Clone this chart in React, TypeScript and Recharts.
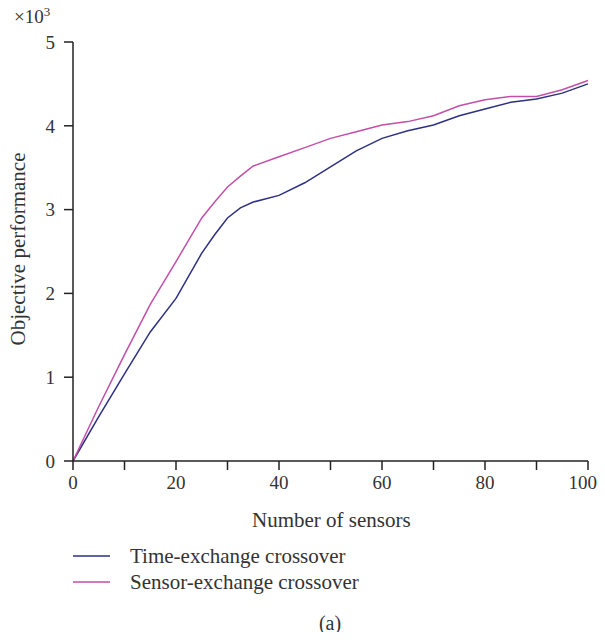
import { LineChart, Line, XAxis, YAxis } from 'recharts'

const sensors = [0, 5, 10, 15, 20, 25, 27.5, 30, 32.5, 35, 40, 45, 50, 55, 60, 65, 70, 75, 80, 85, 90, 95, 100]
const timeExchange = [0, 0.53, 1.04, 1.54, 1.94, 2.48, 2.7, 2.9, 3.02, 3.09, 3.17, 3.32, 3.51, 3.7, 3.85, 3.94, 4.01, 4.12, 4.2, 4.28, 4.32, 4.39, 4.5]
const sensorExchange = [0, 0.65, 1.27, 1.87, 2.38, 2.9, 3.09, 3.27, 3.4, 3.52, 3.63, 3.74, 3.85, 3.93, 4.01, 4.05, 4.12, 4.24, 4.31, 4.35, 4.35, 4.43, 4.54]
const xTicks = [0, 10, 20, 30, 40, 50, 60, 70, 80, 90, 100]
const yTicks = [0, 1, 2, 3, 4, 5]

const data = sensors.map((n, i) => ({ n, time: timeExchange[i], sensor: sensorExchange[i] }))

const FONT = '"Liberation Serif", "DejaVu Serif", serif'
const INK = '#333'
const AXIS = '#222'
const NAVY = '#2e3182'
const PINK = '#c24fa8'

const tickStyle = { fontFamily: FONT, fontSize: 19, fill: INK }

export default function App() {
  return (
    <div style={{ position: 'relative', width: 589, height: 624, fontFamily: FONT, color: INK }}>
      <LineChart
        width={589}
        height={620}
        data={data}
        margin={{ top: 34, right: 9, left: 0, bottom: 107 }}
      >
        <XAxis
          dataKey="n"
          type="number"
          domain={[0, 100]}
          ticks={xTicks}
          tickFormatter={(v: number) => (v % 20 === 0 ? String(v) : '')}
          height={60}
          tickSize={9}
          tickMargin={6}
          stroke={AXIS}
          strokeWidth={1.5}
          tick={tickStyle}
        />
        <YAxis
          type="number"
          domain={[0, 5]}
          ticks={yTicks}
          width={65}
          tickSize={9}
          tickMargin={9}
          stroke={AXIS}
          strokeWidth={1.5}
          tick={tickStyle}
        />
        <Line
          dataKey="time"
          stroke={NAVY}
          strokeWidth={1.5}
          dot={false}
          type="linear"
          isAnimationActive={false}
        />
        <Line
          dataKey="sensor"
          stroke={PINK}
          strokeWidth={1.5}
          dot={false}
          type="linear"
          isAnimationActive={false}
        />
      </LineChart>

      <div style={{ position: 'absolute', left: 6, top: -4, fontSize: 19 }}>
        ×10<sup style={{ fontSize: 13 }}>3</sup>
      </div>
      <div
        style={{
          position: 'absolute',
          left: 10,
          top: 241,
          fontSize: 21,
          whiteSpace: 'nowrap',
          transform: 'translate(-50%, -50%) rotate(-90deg)',
        }}
      >
        Objective performance
      </div>
      <div style={{ position: 'absolute', left: 244, top: 500, fontSize: 21, lineHeight: '24px', whiteSpace: 'nowrap' }}>
        Number of sensors
      </div>

      <svg style={{ position: 'absolute', left: 0, top: 0 }} width={589} height={624}>
        <line x1={65} x2={102} y1={548} y2={548} stroke={NAVY} strokeWidth={1.5} />
        <line x1={65} x2={102} y1={574} y2={574} stroke={PINK} strokeWidth={1.5} />
      </svg>
      <div style={{ position: 'absolute', left: 122, top: 536, fontSize: 21, lineHeight: '24px', whiteSpace: 'nowrap' }}>
        Time-exchange crossover
      </div>
      <div style={{ position: 'absolute', left: 122, top: 562, fontSize: 21, lineHeight: '24px', whiteSpace: 'nowrap' }}>
        Sensor-exchange crossover
      </div>

      <div
        style={{
          position: 'absolute',
          left: 322,
          top: 615,
          fontSize: 20,
          whiteSpace: 'nowrap',
          transform: 'translate(-50%, -50%)',
        }}
      >
        (a)
      </div>
    </div>
  )
}
